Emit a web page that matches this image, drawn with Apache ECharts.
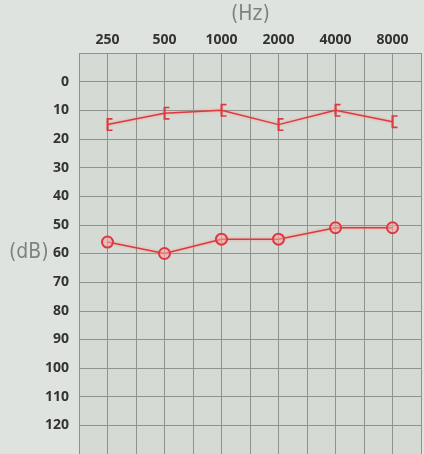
<!DOCTYPE html>
<html>
<head>
<meta charset="utf-8">
<script src="https://cdn.jsdelivr.net/npm/echarts@6/dist/echarts.min.js"></script>
<style>
html,body{margin:0;padding:0;background:#dfe3df;}
#chart{width:424px;height:454px;}
</style>
</head>
<body>
<div id="chart"></div>
<script>
var freqLabels = ['250', '500', '1000', '2000', '4000', '8000'];
var bracketValues = [15, 11, 10, 15, 10, 14];
var circleValues = [56, 60, 55, 55, 51, 51];
var dbTicks = [0, 10, 20, 30, 40, 50, 60, 70, 80, 90, 100, 110, 120];

// each frequency sits on an odd half-octave grid position
function pos(i) { return i * 2 + 1; }
var labelAt = {};
freqLabels.forEach(function (f, i) { labelAt[pos(i)] = f; });

var bracketData = bracketValues.map(function (v, i) { return [pos(i), v]; });
var circleData = circleValues.map(function (v, i) { return [pos(i), v]; });

var red = '#dc3a40';
var chart = echarts.init(document.getElementById('chart'));
chart.setOption({
  backgroundColor: '#dfe3df',
  animation: false,
  grid: { left: 79, right: 0, top: 53, bottom: 0, show: true, backgroundColor: '#d5dbd4', borderWidth: 0 },
  graphic: [
    { type: 'text', left: 231, top: 4, style: { text: '(Hz)', font: '300 21px "DejaVu Sans Condensed"', fill: '#7f837e' } },
    { type: 'text', left: 9, top: 242, style: { text: '(dB)', font: '300 21px "DejaVu Sans Condensed"', fill: '#7f837e' } }
  ],
  xAxis: {
    type: 'value', position: 'top', min: 0, max: 12, interval: 1,
    axisLine: { show: false }, axisTick: { show: false },
    splitLine: { show: true, lineStyle: { color: '#8e938d', width: 1 } },
    axisLabel: {
      margin: 6, color: '#333', fontFamily: 'Open Sans', fontWeight: 'bold', fontSize: 14,
      hideOverlap: false, showMinLabel: true, showMaxLabel: true,
      formatter: function (v) { return labelAt[v] || ''; }
    }
  },
  yAxis: {
    type: 'value', inverse: true, min: -10, max: 130, interval: 10,
    axisLine: { show: false }, axisTick: { show: false },
    splitLine: { show: true, lineStyle: { color: '#8e938d', width: 1 } },
    axisLabel: {
      margin: 10, color: '#333', fontFamily: 'Open Sans', fontWeight: 'bold', fontSize: 14,
      formatter: function (v) { return dbTicks.indexOf(v) >= 0 ? String(v) : ''; }
    }
  },
  series: [
    {
      type: 'line', data: bracketData,
      symbol: 'path://M0,0 L7,0 L7,2.5 L2.5,2.5 L2.5,17.5 L7,17.5 L7,20 L0,20 Z',
      symbolSize: [6, 13], symbolOffset: [2, 0],
      itemStyle: { color: red },
      lineStyle: { color: red, width: 1.5, shadowColor: 'rgba(255,110,110,0.6)', shadowBlur: 3 }
    },
    {
      type: 'line', data: circleData,
      symbol: 'circle', symbolSize: 11,
      itemStyle: { color: 'rgba(245,170,170,0.55)', borderColor: red, borderWidth: 2 },
      lineStyle: { color: red, width: 1.5, shadowColor: 'rgba(255,110,110,0.6)', shadowBlur: 3 }
    }
  ]
});
</script>
</body>
</html>
